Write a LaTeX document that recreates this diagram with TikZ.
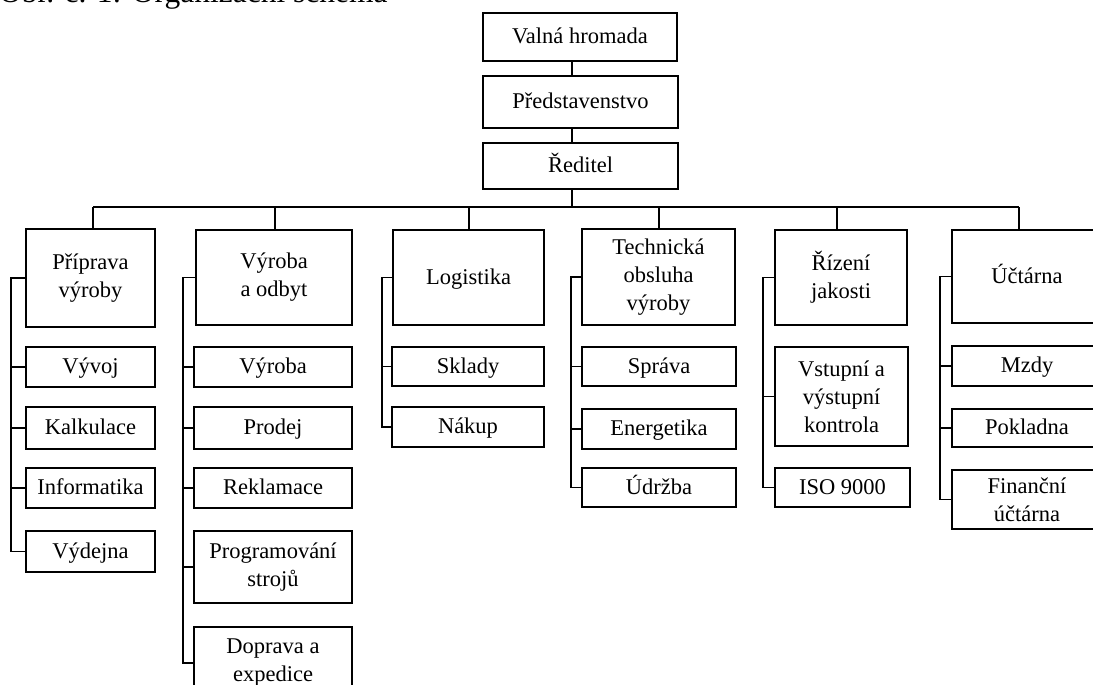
\documentclass[tikz,border=0pt]{standalone}
\usepackage{fontspec}
\setmainfont{Liberation Serif}
\usetikzlibrary{positioning,calc}
\tikzset{
chart/.style={x=1pt,y=-1pt,line width=1.4pt},
unit/.style={rectangle,draw,align=center,inner sep=0pt,font=\fontsize{22.5}{28}\selectfont},
oneline/.style={text height=16,text depth=3},
head/.style={unit,minimum height=95},
sub/.style={unit,minimum height=40},
colA/.style={minimum width=129},
colB/.style={minimum width=158},
colC/.style={minimum width=152},
colD/.style={minimum width=154},
colE/.style={minimum width=133},
colF/.style={minimum width=150}
}

\begin{document}
\begin{tikzpicture}[chart]
\useasboundingbox (0,0) rectangle (1093,685);

\node[anchor=base west,font=\fontsize{31.5}{36}\selectfont] (title) at (-5,3) {Obr. č. 1: Organizační schéma};

\node[unit,oneline,minimum width=194,minimum height=48] (valna) at (580,37) {Valná hromada};
\node[unit,oneline,minimum width=195,minimum height=52] (predst) at (580.5,102) {Představenstvo};
\node[unit,oneline,minimum width=195,minimum height=46] (reditel) at (580.5,166) {Ředitel};

% utvary
\node[head,colA] (priprava) at (90.5,278) [minimum height=98] {Příprava\\výroby};
\node[head,colB] (vyrobaodbyt) at (274,277.5) [minimum width=156] {Výroba\\a odbyt};
\node[head,colC,oneline] (logistika) at (468.5,277.5) [minimum width=151] {Logistika};
\node[head,colD] (technicka) at (658.5,277) [minimum width=153,minimum height=96] {Technická\\obsluha\\výroby};
\node[head,colE] (jakost) at (841,277.5) [minimum width=132] {Řízení\\jakosti};
\node[head,colF,oneline] (uctarna) at (1027,276.5) [minimum height=93] {Účtárna};

\node[sub,colA,oneline] (vyvoj) at (90.5,367) {Vývoj};
\node[sub,colA,oneline] (kalkulace) at (90.5,428) [minimum height=42] {Kalkulace};
\node[sub,colA,oneline] (informatika) at (90.5,488) {Informatika};
\node[sub,colA,oneline] (vydejna) at (90.5,551.5) [minimum height=41] {Výdejna};

\node[sub,colB,oneline] (vyroba) at (273,367) {Výroba};
\node[sub,colB,oneline] (prodej) at (273,428) [minimum height=42] {Prodej};
\node[sub,colB,oneline] (reklamace) at (273,488) {Reklamace};
\node[sub,colB] (programovani) at (273,567) [minimum height=72] {Programování\\strojů};
\node[sub,colB] (doprava) at (273,663) [minimum height=72] {Doprava a\\expedice};

\node[sub,colC,oneline] (sklady) at (468,366.5) [minimum height=39] {Sklady};
\node[sub,colC,oneline] (nakup) at (468,427) {Nákup};

\node[sub,colD,oneline] (sprava) at (659,366.5) [minimum height=39] {Správa};
\node[sub,colD,oneline] (energetika) at (659,429) {Energetika};
\node[sub,colD,oneline] (udrzba) at (659,487.5) [minimum height=39] {Údržba};

\node[sub,colE] (vstupni) at (841.5,396.5) [minimum height=99] {Vstupní a\\výstupní\\kontrola};
\node[sub,colE,oneline] (iso) at (842.5,487.5) [minimum width=135,minimum height=39] {ISO 9000};

\node[sub,colF,oneline] (mzdy) at (1027,366) {Mzdy};
\node[sub,colF,oneline] (pokladna) at (1027,428) [minimum height=38] {Pokladna};
\node[sub,colF] (financni) at (1027,499.5) [minimum height=59] {Finanční\\účtárna};

% vedeni
\coordinate (osa) at (572,0);
\coordinate (busL) at (93,207);
\coordinate (busR) at (1019,207);
\draw (valna.south -| osa) -- (predst.north -| osa);
\draw (predst.south -| osa) -- (reditel.north -| osa);
\draw (reditel.south -| osa) -- (busL -| osa);
\draw (busL) -- (busR);

\coordinate (d1) at (93,207);
\coordinate (d2) at (275,207);
\coordinate (d3) at (469,207);
\coordinate (d4) at (659,207);
\coordinate (d5) at (837,207);
\coordinate (d6) at (1019,207);
\draw (d1) -- (d1 |- priprava.north);
\draw (d2) -- (d2 |- vyrobaodbyt.north);
\draw (d3) -- (d3 |- logistika.north);
\draw (d4) -- (d4 |- technicka.north);
\draw (d5) -- (d5 |- jakost.north);
\draw (d6) -- (d6 |- uctarna.north);

% osy sloupcu
\coordinate (s1) at (11,0);
\coordinate (s2) at (183,0);
\coordinate (s3) at (382,0);
\coordinate (s4) at (571,0);
\coordinate (s5) at (763,0);
\coordinate (s6) at (940,0);

\draw (priprava.west) -- (priprava.west -| s1) -- (vydejna.west -| s1) -- (vydejna.west);
\foreach \n in {vyvoj,kalkulace,informatika}
  \draw (\n.west) -- (\n.west -| s1);

\draw (vyrobaodbyt.west) -- (vyrobaodbyt.west -| s2) -- (doprava.west -| s2) -- (doprava.west);
\foreach \n in {vyroba,prodej,reklamace,programovani}
  \draw (\n.west) -- (\n.west -| s2);

\draw (logistika.west) -- (logistika.west -| s3) -- (nakup.west -| s3) -- (nakup.west);
\draw (sklady.west) -- (sklady.west -| s3);

\draw (technicka.west) -- (technicka.west -| s4) -- (udrzba.west -| s4) -- (udrzba.west);
\foreach \n in {sprava,energetika}
  \draw (\n.west) -- (\n.west -| s4);

\draw (jakost.west) -- (jakost.west -| s5) -- (iso.west -| s5) -- (iso.west);
\draw (vstupni.west) -- (vstupni.west -| s5);

\draw (uctarna.west) -- (uctarna.west -| s6) -- (financni.west -| s6) -- (financni.west);
\foreach \n in {mzdy,pokladna}
  \draw (\n.west) -- (\n.west -| s6);

\end{tikzpicture}
\end{document}
